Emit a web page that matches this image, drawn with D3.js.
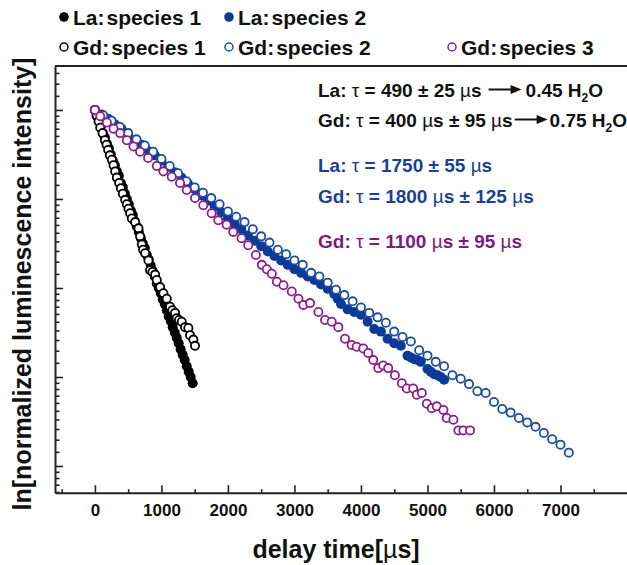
<!DOCTYPE html>
<html>
<head>
<meta charset="utf-8">
<script src="https://cdn.jsdelivr.net/npm/d3@7"></script>
<style>
  body { margin: 0; background: #fff; }
  svg { display: block; }
  text { font-family: Arial, "Liberation Sans", sans-serif; font-weight: bold; }
</style>
</head>
<body>
<script>
// delay time [us], ln(normalized intensity)
var la1 = [[0,0],[30,-0.07],[60,-0.13],[90,-0.18],[120,-0.26],[150,-0.31],[180,-0.38],[210,-0.43],[240,-0.50],[270,-0.57],
  [300,-0.62],[330,-0.69],[360,-0.74],[390,-0.82],[420,-0.87],[450,-0.94],[480,-1.00],[510,-1.06],[540,-1.13],[570,-1.18],
  [600,-1.25],[630,-1.31],[660,-1.37],[690,-1.44],[720,-1.50],[750,-1.55],[780,-1.63],[810,-1.68],[840,-1.75],[870,-1.81],
  [900,-1.87],[930,-1.95],[960,-2.00],[990,-2.06],[1020,-2.13],[1050,-2.18],[1080,-2.25],[1110,-2.32],[1140,-2.37],[1170,-2.44],
  [1200,-2.50],[1230,-2.56],[1260,-2.62],[1290,-2.69],[1320,-2.75],[1350,-2.81],[1380,-2.88],[1410,-2.94],[1440,-3.00],[1470,-3.07]]

var la2 = [[0,0],[100,-0.05],[200,-0.10],[300,-0.16],[400,-0.21],[500,-0.28],[600,-0.34],[700,-0.39],[800,-0.46],[900,-0.51],
  [1000,-0.57],[1100,-0.64],[1200,-0.70],[1300,-0.76],[1400,-0.83],[1500,-0.89],[1600,-0.96],[1700,-1.02],[1800,-1.08],[1900,-1.15],
  [2000,-1.22],[2100,-1.28],[2200,-1.34],[2300,-1.41],[2400,-1.47],[2500,-1.53],[2600,-1.59],[2700,-1.64],[2800,-1.69],[2900,-1.74],
  [3000,-1.79],[3100,-1.83],[3200,-1.87],[3300,-1.91],[3400,-1.96],[3500,-2.01],[3600,-2.07],[3650,-2.12],[3700,-2.18],[3800,-2.24],
  [3900,-2.27],[4000,-2.30],[4100,-2.38],[4200,-2.46],[4300,-2.49],[4400,-2.57],[4500,-2.62],[4600,-2.65],[4700,-2.76],[4750,-2.78],
  [4800,-2.80],[4850,-2.81],[4900,-2.83],[5000,-2.91],[5050,-2.94],[5100,-2.97],[5150,-2.98],[5200,-3.00],[5250,-3.03]]

var gd1 = [[0,0],[25,-0.06],[55,-0.13],[80,-0.20],[115,-0.26],[150,-0.34],[175,-0.39],[200,-0.45],[225,-0.51],[255,-0.56],
  [280,-0.62],[305,-0.69],[330,-0.76],[365,-0.82],[390,-0.88],[420,-0.94],[455,-1.01],[480,-1.06],[505,-1.11],[530,-1.16],
  [555,-1.22],[605,-1.26],[655,-1.33],[680,-1.42],[705,-1.51],[725,-1.57],[755,-1.61],[805,-1.69],[830,-1.80],[865,-1.82],
  [905,-1.85],[930,-1.91],[980,-1.99],[1030,-2.06],[1080,-2.12],[1130,-2.21],[1165,-2.25],[1205,-2.28],[1230,-2.34],[1265,-2.36],
  [1305,-2.38],[1355,-2.44],[1405,-2.45],[1430,-2.53],[1480,-2.58],[1505,-2.65]]

var gd2 = [[0,0],[125,-0.06],[250,-0.12],[375,-0.19],[500,-0.26],[625,-0.33],[750,-0.40],[875,-0.47],[1000,-0.55],[1125,-0.63],
  [1250,-0.71],[1375,-0.80],[1500,-0.87],[1625,-0.93],[1750,-0.99],[1875,-1.06],[2000,-1.14],[2125,-1.20],[2250,-1.26],[2375,-1.34],
  [2500,-1.42],[2625,-1.49],[2750,-1.57],[2875,-1.62],[3000,-1.69],[3125,-1.74],[3250,-1.83],[3375,-1.87],[3500,-1.94],[3625,-2.02],
  [3750,-2.08],[3875,-2.15],[4000,-2.22],[4125,-2.28],[4250,-2.33],[4375,-2.39],[4500,-2.49],[4625,-2.55],[4750,-2.60],[4875,-2.70],
  [5000,-2.76],[5125,-2.83],[5250,-2.88],[5375,-2.98],[5500,-3.02],[5625,-3.08],[5750,-3.16],[5875,-3.18],[6000,-3.28],[6125,-3.36],
  [6250,-3.40],[6375,-3.46],[6500,-3.51],[6625,-3.56],[6750,-3.63],[6875,-3.70],[7000,-3.76],[7125,-3.85]]

var gd3 = [[0,0],[80,-0.07],[180,-0.14],[280,-0.21],[380,-0.26],[480,-0.34],[580,-0.41],[680,-0.47],[800,-0.54],[930,-0.63],
  [1030,-0.69],[1155,-0.75],[1280,-0.82],[1380,-0.90],[1505,-0.99],[1630,-1.07],[1755,-1.16],[1855,-1.24],[1980,-1.29],[2080,-1.37],
  [2205,-1.44],[2305,-1.52],[2420,-1.63],[2510,-1.74],[2585,-1.79],[2660,-1.84],[2735,-1.93],[2835,-1.97],[2960,-2.04],[3060,-2.12],
  [3135,-2.19],[3235,-2.17],[3360,-2.27],[3460,-2.36],[3560,-2.38],[3660,-2.44],[3760,-2.57],[3860,-2.64],[3935,-2.66],[4035,-2.68],
  [4110,-2.73],[4185,-2.81],[4260,-2.90],[4335,-2.87],[4410,-2.90],[4510,-2.98],[4615,-3.07],[4690,-3.13],[4785,-3.13],[4840,-3.20],
  [4915,-3.18],[4990,-3.30],[5065,-3.35],[5140,-3.33],[5240,-3.37],[5290,-3.46],[5390,-3.48],[5465,-3.60],[5540,-3.60],[5640,-3.60]]

var xMajor = [0, 1000, 2000, 3000, 4000, 5000, 6000, 7000]
var xMinor = [-500, 500, 1500, 2500, 3500, 4500, 5500, 6500, 7500]
var yMajor = [-4, -3, -2, -1, 0]

var W = 627, H = 565

var svg = d3.select('body')
  .append('svg')
  .attr('width', W)
  .attr('height', H)

var x = d3.scaleLinear().domain([-600, 8000]).range([55, 627])
var y = d3.scaleLinear().domain([-4.3, 0.494]).range([492.7, 66])

// minor y ticks: 9 per unit, spaced like an e-based log axis
var yMinor = []
for (var n = -5; n <= 0; n++) {
  for (var k = 1; k <= 9; k++) {
    var v = n + Math.log(1 + k * (Math.E - 1) / 10)
    if (v > -4.3 && v < 0.494) yMinor.push(v)
  }
}

var axisColor = '#222'

// frame top
svg.append('line')
  .attr('x1', 55).attr('x2', 627)
  .attr('y1', 66).attr('y2', 66)
  .style('stroke', axisColor).style('stroke-width', 2)

var gx = svg.append('g').attr('transform', 'translate(0,' + y.range()[0] + ')')
gx.call(d3.axisBottom(x).tickValues(xMajor).tickSize(-7.5).tickSizeOuter(0).tickPadding(11).tickFormat(d3.format('d')))
gx.append('g').call(d3.axisBottom(x).tickValues(xMinor).tickSize(-3.5).tickFormat(''))
  .select('.domain').remove()

var gy = svg.append('g').attr('transform', 'translate(' + x.range()[0] + ',0)')
gy.call(d3.axisLeft(y).tickValues(yMajor).tickSize(-8).tickSizeOuter(0).tickFormat(''))
gy.append('g').call(d3.axisLeft(y).tickValues(yMinor).tickSize(-4.5).tickFormat(''))
  .select('.domain').remove()

svg.selectAll('.domain').style('stroke', axisColor).style('stroke-width', 2)
svg.selectAll('.tick line').style('stroke', axisColor).style('stroke-width', 1.6)
gx.selectAll('.tick text').style('font-size', '17px').style('fill', '#111')

// axis titles
svg.append('text')
  .attr('x', 336).attr('y', 558)
  .attr('text-anchor', 'middle')
  .style('font-size', '25px').style('fill', '#111')
  .call(function(t) {
    t.append('tspan').text('delay time[')
    t.append('tspan').text('\u00b5').style('font-weight', 'normal')
    t.append('tspan').text('s]')
  })

svg.append('text')
  .attr('transform', 'translate(31,284) rotate(-90)')
  .attr('text-anchor', 'middle')
  .style('font-size', '25px').style('fill', '#111')
  .text('ln[normalized luminescence intensity]')

// series
var series = [
  { data: la1, filled: true,  color: '#000000' },
  { data: la2, filled: true,  color: '#0b3a99' },
  { data: gd1, filled: false, color: '#000000' },
  { data: gd2, filled: false, color: '#1f4c9e' },
  { data: gd3, filled: false, color: '#8a1f8a' }
]

series.forEach(function(s) {
  svg.append('g')
    .selectAll('circle')
    .data(s.data)
    .enter()
    .append('circle')
    .attr('cx', function(d) { return x(d[0]) })
    .attr('cy', function(d) { return y(d[1]) })
    .attr('r', s.filled ? 5 : 4.1)
    .style('fill', s.filled ? s.color : '#fff')
    .style('stroke', s.color)
    .style('stroke-width', s.filled ? 0 : 1.8)
})

// legend
var legendLabels = ['La:', 'La:', 'Gd:', 'Gd:', 'Gd:']
var legendNames = ['species 1', 'species 2', 'species 1', 'species 2', 'species 3']
var legendPos = [[64, 17], [229, 17], [64, 47], [229, 47], [452, 47]]

series.forEach(function(s, i) {
  var p = legendPos[i]
  svg.append('circle')
    .attr('cx', p[0]).attr('cy', p[1])
    .attr('r', s.filled ? 4.8 : 4)
    .style('fill', s.filled ? s.color : '#fff')
    .style('stroke', s.color)
    .style('stroke-width', s.filled ? 0 : 1.5)
  var t = svg.append('text')
    .attr('x', p[0] + 9).attr('y', p[1] + 7.5)
    .style('font-size', '21px').style('fill', '#111')
  t.append('tspan').text(legendLabels[i])
  t.append('tspan').attr('dx', 2).text(legendNames[i])
})

// lifetime notes
var black = '#111', blue = '#1c3f94', purple = '#80197f'
var notes = [
  { y: 97,  color: black,  segs: [['La: ', 1], ['\u03c4', 0], [' = 490 \u00b1 25 ', 1], ['\u00b5', 0], ['s', 1]], arrow: [7, 33, 4], end: '0.45' },
  { y: 127, color: black,  segs: [['Gd: ', 1], ['\u03c4', 0], [' = 400 ', 1], ['\u00b5', 0], ['s \u00b1 95 ', 1], ['\u00b5', 0], ['s', 1]], arrow: [2, 33, 2], end: '0.75' },
  { y: 172, color: blue,   segs: [['La: ', 1], ['\u03c4', 0], [' = 1750 \u00b1 55 ', 1], ['\u00b5', 0], ['s', 1]] },
  { y: 203, color: blue,   segs: [['Gd: ', 1], ['\u03c4', 0], [' = 1800 ', 1], ['\u00b5', 0], ['s \u00b1 125 ', 1], ['\u00b5', 0], ['s', 1]] },
  { y: 248, color: purple, segs: [['Gd: ', 1], ['\u03c4', 0], [' = 1100 ', 1], ['\u00b5', 0], ['s \u00b1 95 ', 1], ['\u00b5', 0], ['s', 1]] }
]

notes.forEach(function(nt) {
  var t = svg.append('text')
    .attr('x', 318).attr('y', nt.y)
    .style('font-size', '19px').style('fill', nt.color)
  nt.segs.forEach(function(s) {
    t.append('tspan').text(s[0]).style('font-weight', s[1] ? 'bold' : 'normal')
  })
  if (!nt.arrow) return
  var x0 = 318 + t.node().getComputedTextLength() + nt.arrow[0]
  var x1 = x0 + nt.arrow[1]
  var ay = nt.y - 7.5
  svg.append('line')
    .attr('x1', x0).attr('x2', x1 - 8)
    .attr('y1', ay).attr('y2', ay)
    .style('stroke', nt.color).style('stroke-width', 2)
  svg.append('path')
    .attr('d', 'M' + x1 + ',' + ay + 'L' + (x1 - 11) + ',' + (ay - 4.5) + 'L' + (x1 - 11) + ',' + (ay + 4.5) + 'Z')
    .style('fill', nt.color)
  var t2 = svg.append('text')
    .attr('x', x1 + nt.arrow[2]).attr('y', nt.y)
    .style('font-size', '19px').style('fill', nt.color)
  t2.append('tspan').text(nt.end + ' H')
  t2.append('tspan').attr('dy', 5).style('font-size', '12px').text('2')
  t2.append('tspan').attr('dy', -5).text('O')
})
</script>
</body>
</html>
